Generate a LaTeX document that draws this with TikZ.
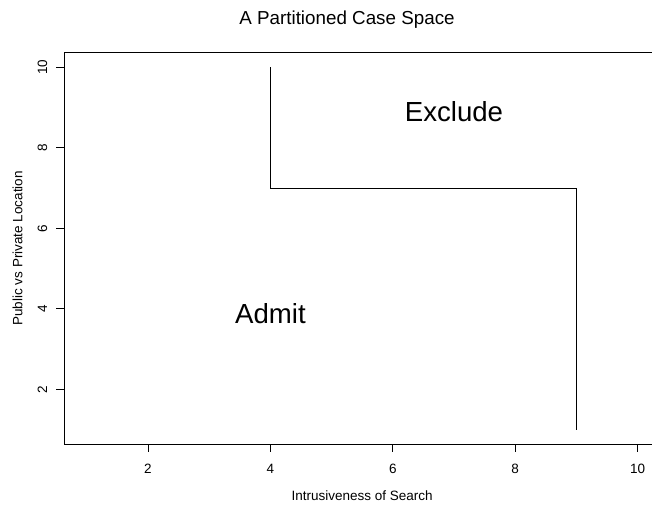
\documentclass[tikz,border=0pt]{standalone}
\usepackage{fontspec}
\setmainfont{Liberation Sans}
\usetikzlibrary{calc}
\tikzset{
	ticklabel/.style={font=\fontsize{13.5}{13.5}\selectfont,inner sep=0pt},
	axislabel/.style={font=\fontsize{13.5}{13.5}\selectfont,inner sep=0pt},
	region/.style={font=\fontsize{27.6}{27.6}\selectfont,inner sep=0pt},
	plottitle/.style={font=\fontsize{18.8}{18.8}\selectfont,inner sep=0pt},
}

\begin{document}
\begin{tikzpicture}[x=1pt,y=1pt,line width=0.8pt]
		\useasboundingbox (0,0) rectangle (652,506);
		\begin{scope}[shift={(25.6,36.2)},x=61.2pt,y=40.25pt]
			% plot frame
			\coordinate (ll) at (0.64,0.64);
			\coordinate (ur) at (10.36,10.36);
			\coordinate (mid) at ($(ll)!0.5!(ur)$);
			\draw (ll) rectangle (ur);
			\foreach \t in {2,4,...,10} {
				\draw (\t,0.64) -- ++(0,-8.3pt);
				\node[ticklabel,anchor=base] (xt\t) at ($(\t,0.64)+(0,-29.3pt)$) {\t};
				\draw (0.64,\t) -- ++(-8.3pt,0);
				\node[ticklabel,anchor=base,rotate=90] (yt\t) at ($(0.64,\t)+(-17.7pt,0)$) {\t};
			}
			\node[axislabel,anchor=base] (xlab) at ($(mid|-ll)+(0,-56.7pt)$) {Intrusiveness of Search};
			\node[axislabel,anchor=base,rotate=90] (ylab) at ($(mid-|ll)+(-42.3pt,0)$) {Public vs Private Location};
			\node[plottitle,anchor=base] (title) at ($(mid|-ur)+(-15.2pt,28.8pt)$) {A Partitioned Case Space};
			% partition
			\coordinate (p1) at (4,10);
			\coordinate (p2) at (4,7);
			\coordinate (p3) at (9,7);
			\coordinate (p4) at (9,1);
			\draw[line width=0.6pt] (p1) -- (p2) -- (p3) -- (p4);
			\node[region] (excl) at (7,8.9) {Exclude};
			\node[region] (adm) at (4,3.87) {Admit};
		\end{scope}
	\end{tikzpicture}
\end{document}
